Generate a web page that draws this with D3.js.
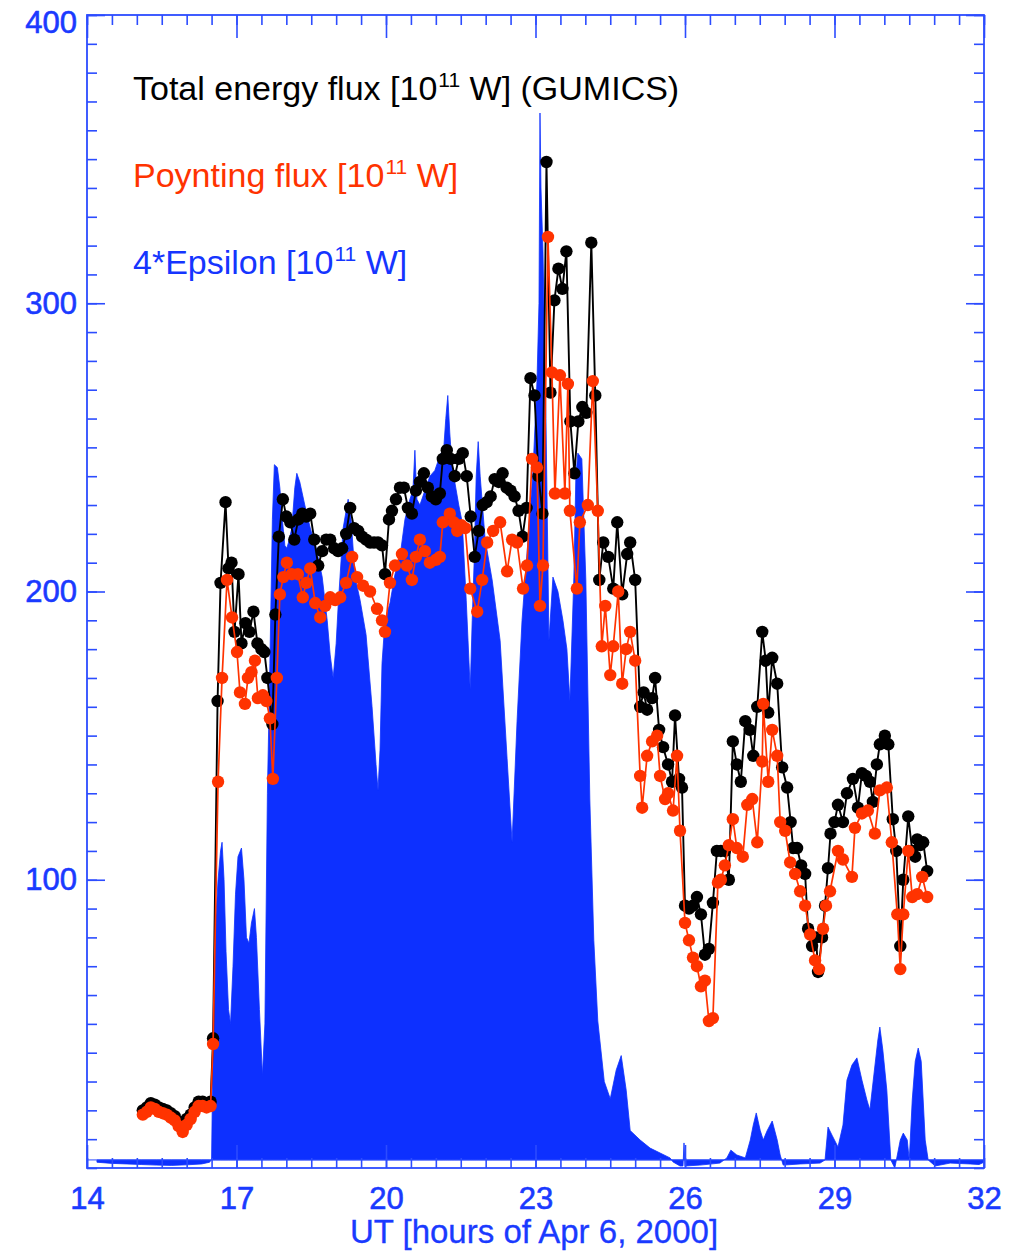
<!DOCTYPE html>
<html>
<head>
<meta charset="utf-8">
<script src="https://cdn.jsdelivr.net/npm/d3@7"></script>
<style>
  body { margin: 0; background: #fff; }
  text { font-family: "Liberation Sans", Arial, Helvetica, sans-serif; }
</style>
</head>
<body>
<svg id="chart" width="1019" height="1251"></svg>
<script>
// ---- axis ticks ----
const xTicks = [14, 17, 20, 23, 26, 29, 32];
const yTicks = [100, 200, 300, 400];
const xMinorStep = 0.5;
const yMinorStep = 10;

// reference level that the epsilon fill is closed against
const epsilonBase = 2.8;

// 4*Epsilon [1e11 W], [UT hour, value]
const epsilon4 = [
  [14.2,2.0],[14.5,1.6],[14.8,1.4],[15.1,1.2],[15.4,1.0],[15.7,0.9],[16.0,1.1],[16.3,1.4],[16.46,2.0],
  [16.50,3],[16.53,45],[16.58,85],[16.63,100],[16.68,110],[16.71,113],[16.75,100],[16.79,75],[16.84,55],
  [16.88,50],[16.93,70],[16.98,95],[17.03,108],[17.10,111],[17.15,100],[17.20,80],[17.25,78],[17.30,85],
  [17.36,90],[17.40,80],[17.46,55],[17.52,32],[17.57,50],[17.62,130],[17.67,175],[17.72,225],[17.76,244],
  [17.82,243],[17.87,236],[17.92,225],[17.97,216],[18.01,215],[18.06,218],[18.11,222],[18.17,236],[18.21,241],
  [18.27,238],[18.37,230],[18.48,222],[18.60,215],[18.72,205],[18.82,190],[18.88,178],[18.94,170],[19.00,182],
  [19.04,195],[19.14,222],[19.24,232],[19.30,225],[19.38,205],[19.48,197],[19.60,185],[19.72,160],[19.80,140],
  [19.84,131],[19.88,145],[19.92,175],[19.98,190],[20.08,196],[20.18,206],[20.28,212],[20.38,225],[20.48,232],
  [20.54,235],[20.58,249],[20.62,232],[20.68,230],[20.78,235],[20.88,240],[20.98,242],[21.08,247],[21.16,250],
  [21.20,260],[21.24,268],[21.28,255],[21.32,245],[21.38,238],[21.46,230],[21.53,224],[21.61,197],[21.69,166],
  [21.73,190],[21.77,211],[21.81,240],[21.85,252],[21.89,240],[21.99,218],[22.13,204],[22.29,183],[22.43,142],
  [22.53,113],[22.63,155],[22.73,190],[22.85,218],[22.95,242],[23.03,273],[23.07,300],[23.09,366],[23.11,340],
  [23.15,318],[23.21,260],[23.27,183],[23.35,205],[23.45,200],[23.55,190],[23.63,180],[23.69,162],[23.77,205],
  [23.81,240],[23.85,248],[23.93,246],[24.01,204],[24.09,128],[24.17,79],[24.25,51],[24.38,30],[24.50,24],
  [24.62,34],[24.72,39],[24.82,27],[24.90,13],[25.10,9.7],[25.30,6.9],[25.50,5.2],[25.70,3.5],[25.76,2.1],
  [25.90,0.7],[25.96,0.7],[25.98,8.7],[26.00,0.7],[26.30,1.0],[26.70,1.7],[26.84,3.5],[26.92,6.2],[27.04,4.5],
  [27.21,3.5],[27.31,9.7],[27.37,14.9],[27.43,19.1],[27.51,13],[27.57,9.7],[27.65,13],[27.75,16.3],[27.85,9.7],
  [27.91,4.5],[27.97,1.0],[28.31,1.4],[28.71,1.7],[28.81,2.8],[28.87,14.2],[28.95,11.4],[29.07,7.3],[29.17,14.9],
  [29.25,30.5],[29.35,35.7],[29.45,38.2],[29.55,30.5],[29.65,23.6],[29.71,20.1],[29.79,32.3],[29.87,44.4],
  [29.91,48.9],[29.97,40.9],[30.05,27],[30.13,2.8],[30.21,0],[30.32,9.7],[30.38,12.1],[30.46,9.7],[30.50,2.8],
  [30.56,23.6],[30.62,37],[30.68,41.6],[30.74,37],[30.82,9.7],[30.88,2.8],[31.02,0.7],[31.32,1.7],[31.72,1.4],
  [31.90,1.2],[32.0,2.0]
];

// Total energy flux (GUMICS) [1e11 W], [UT hour, value]
const totalFlux = [
  [15.12,20],[15.20,21],[15.28,22.5],[15.36,22],[15.44,21],[15.52,20.5],[15.60,20],[15.68,19],[15.76,18],
  [15.84,16],[15.92,14],[16.00,17],[16.08,18.5],[16.16,21],[16.24,23],[16.32,23],[16.40,22.5],[16.48,23],
  [16.53,45],[16.62,162],[16.68,203],[16.78,231],[16.84,208],[16.90,210],[16.96,186],[17.04,206],[17.10,182],
  [17.18,189],[17.26,186],[17.34,193],[17.42,182],[17.50,180],[17.56,179],[17.62,170],[17.72,154],[17.78,192],
  [17.85,219],[17.93,232],[18.00,226],[18.08,224],[18.16,218],[18.24,225],[18.32,227],[18.40,226],[18.48,227],
  [18.56,218],[18.64,209],[18.72,214],[18.80,218],[18.88,218],[18.96,215],[19.04,214],[19.12,215],[19.20,220],
  [19.28,229],[19.36,222],[19.44,221],[19.52,219],[19.60,218],[19.68,217],[19.76,217],[19.84,217],[19.92,216],
  [19.98,206],[20.06,225],[20.12,228],[20.20,232],[20.28,236],[20.36,236],[20.44,229],[20.52,227],[20.60,235],
  [20.68,238],[20.76,241],[20.84,236],[20.92,233],[21.00,232],[21.08,234],[21.14,246],[21.22,249],[21.30,246],
  [21.38,240],[21.46,246],[21.54,248],[21.62,240],[21.70,226],[21.78,212],[21.86,221],[21.94,230],[22.02,231],
  [22.10,233],[22.18,239],[22.26,238],[22.34,241],[22.42,236],[22.50,235],[22.58,233],[22.66,228],[22.74,219],
  [22.82,229],[22.90,274],[22.98,268],[23.06,240],[23.14,227],[23.22,349],[23.30,269],[23.38,301],[23.46,312],
  [23.54,305],[23.62,318],[23.70,259],[23.78,241],[23.86,259],[23.94,264],[24.02,262],[24.12,321],[24.20,268],
  [24.28,204],[24.36,217],[24.46,212],[24.56,201],[24.64,224],[24.74,199],[24.84,213],[24.90,217],[25.00,204],
  [25.10,160],[25.17,165],[25.24,159],[25.34,163],[25.40,170],[25.48,152],[25.56,146],[25.66,140],[25.74,134],
  [25.80,157],[25.88,135],[25.94,132],[26.00,91],[26.08,90],[26.16,91],[26.24,94],[26.32,88],[26.40,74],
  [26.48,76],[26.56,92],[26.64,110],[26.72,110],[26.80,110],[26.88,100],[26.96,148],[27.04,140],[27.12,134],
  [27.21,155],[27.30,152],[27.37,143],[27.45,160],[27.55,186],[27.62,176],[27.67,158],[27.75,177],[27.85,168],
  [27.95,139],[28.05,132],[28.12,120],[28.17,111],[28.25,111],[28.33,105],[28.41,102],[28.47,83],[28.55,77],
  [28.63,80],[28.67,68],[28.75,80],[28.81,91],[28.87,104],[28.92,116],[29.00,120],[29.07,126],[29.17,120],
  [29.25,130],[29.37,135],[29.47,125],[29.55,137],[29.63,136],[29.71,134],[29.77,127],[29.85,140],[29.91,147],
  [30.01,150],[30.08,147],[30.17,121],[30.24,110],[30.32,77],[30.38,100],[30.48,122],[30.56,110],[30.62,108],
  [30.66,114],[30.72,112],[30.78,113],[30.86,103]
];

// Poynting flux [1e11 W], [UT hour, value]
const poyntingFlux = [
  [15.12,18.5],[15.20,19.5],[15.28,21],[15.36,20.5],[15.44,19.5],[15.52,19],[15.60,18.5],[15.68,17.5],[15.76,16.5],
  [15.84,14.5],[15.92,12.5],[16.00,15],[16.08,17],[16.16,19.5],[16.24,21.5],[16.32,21.5],[16.40,21],[16.48,21.5],
  [16.53,43],[16.63,134],[16.71,170],[16.81,204],[16.91,191],[17.01,179],[17.07,165],[17.17,161],[17.23,170],
  [17.30,172],[17.37,176],[17.43,163],[17.53,164],[17.60,162],[17.67,156],[17.73,135],[17.81,170],[17.87,199],
  [17.94,205],[18.01,210],[18.11,206],[18.23,206],[18.33,198],[18.40,203],[18.48,208],[18.58,196],[18.68,191],
  [18.78,195],[18.88,198],[18.98,197],[19.08,198],[19.20,203],[19.32,212],[19.42,205],[19.54,202],[19.68,200],
  [19.82,194],[19.92,190],[19.98,186],[20.08,203],[20.18,209],[20.32,213],[20.42,209],[20.52,204],[20.60,212],
  [20.68,218],[20.78,214],[20.88,210],[21.00,211],[21.08,212],[21.14,224],[21.28,227],[21.36,224],[21.43,221],
  [21.51,223],[21.59,222],[21.69,201],[21.83,193],[21.93,204],[22.03,217],[22.15,221],[22.29,224],[22.43,207],
  [22.53,218],[22.63,217],[22.75,201],[22.83,209],[22.93,246],[23.03,243],[23.09,195],[23.15,209],[23.25,323],
  [23.33,276],[23.39,234],[23.49,275],[23.59,234],[23.65,272],[23.69,228],[23.83,201],[23.89,224],[24.05,230],
  [24.15,273],[24.25,228],[24.33,181],[24.40,195],[24.50,171],[24.56,181],[24.66,200],[24.74,168],[24.82,180],
  [24.90,186],[25.00,176],[25.10,136],[25.14,125],[25.24,143],[25.34,148],[25.44,150],[25.50,136],[25.60,128],
  [25.66,130],[25.76,124],[25.84,143],[25.90,117],[26.00,85],[26.08,79],[26.16,73],[26.24,70],[26.32,63],
  [26.40,65],[26.48,51],[26.56,52],[26.66,99],[26.72,100],[26.80,105],[26.88,112],[26.96,121],[27.04,111],
  [27.16,108],[27.25,126],[27.35,128],[27.45,113],[27.55,141],[27.57,161],[27.67,134],[27.75,152],[27.85,143],
  [27.91,120],[28.01,117],[28.11,106],[28.21,102],[28.31,96],[28.41,91],[28.51,81],[28.61,72],[28.69,69],
  [28.77,83],[28.83,91],[28.91,96],[29.07,110],[29.17,107],[29.35,101],[29.41,118],[29.55,123],[29.67,124],
  [29.81,116],[29.91,131],[30.05,132],[30.15,113],[30.26,88],[30.32,69],[30.38,88],[30.48,110],[30.56,94],
  [30.66,95],[30.76,101],[30.86,94]
];

// legend lines: main text, superscript, trailing text
const legendLines = [
  { pre: "Total energy flux [10", sup: "11", post: " W] (GUMICS)", color: "#000000" },
  { pre: "Poynting flux [10",      sup: "11", post: " W]",          color: "#ff3300" },
  { pre: "4*Epsilon [10",          sup: "11", post: " W]",          color: "#1535ff" }
];
const xTitle = "UT [hours of Apr 6, 2000]";

// ---- layout ----
const W = 1019, H = 1251;
const plotL = 87, plotR = 984, plotT = 15, plotB = 1168;
const axisColor = "#2c4cff";
const fillColor = "#0d30ff";
const labelColor = "#1a3aff";
const redColor = "#ff3300";

const svg = d3.select("#chart");
svg.append("rect").attr("width", W).attr("height", H).attr("fill", "#fff");

const x = d3.scaleLinear().domain([14, 32]).range([plotL, plotR]);
const y = d3.scaleLinear().domain([0, 400]).range([plotB, plotT]);

// epsilon filled area, closed against the reference level
const area = d3.area()
  .x(d => x(d[0]))
  .y0(y(epsilonBase))
  .y1(d => y(d[1]))
  .curve(d3.curveLinear);
svg.append("path").datum(epsilon4)
  .attr("d", area)
  .attr("fill", fillColor)
  .attr("stroke", fillColor)
  .attr("stroke-width", 0.8);

// reference level line
svg.append("line")
  .attr("x1", plotL).attr("x2", plotR)
  .attr("y1", y(epsilonBase)).attr("y2", y(epsilonBase))
  .attr("stroke", axisColor).attr("stroke-width", 1);

// ---- axes ----
function styleAxis(g) {
  g.select(".domain").remove();
  g.selectAll(".tick line").attr("stroke", axisColor).attr("stroke-width", 1.6);
  g.selectAll(".tick text")
    .attr("fill", labelColor)
    .attr("stroke", labelColor)
    .attr("stroke-width", 0.6)
    .attr("font-size", 31)
    .attr("font-family", "'Liberation Sans', Arial, sans-serif");
}
const xMinor = d3.range(14, 32.001, xMinorStep);
const yMinor = d3.range(0, 400.001, yMinorStep);

// bottom
svg.append("g").attr("transform", `translate(0,${plotB})`)
  .call(d3.axisBottom(x).tickValues(xMinor).tickSize(-10).tickSizeOuter(0).tickFormat(""))
  .call(styleAxis);
svg.append("g").attr("transform", `translate(0,${plotB})`)
  .call(d3.axisBottom(x).tickValues(xTicks).tickSize(-23).tickSizeOuter(0).tickPadding(19).tickFormat(d3.format("d")))
  .call(styleAxis);
// top
svg.append("g").attr("transform", `translate(0,${plotT})`)
  .call(d3.axisTop(x).tickValues(xMinor).tickSize(-10).tickSizeOuter(0).tickFormat(""))
  .call(styleAxis);
svg.append("g").attr("transform", `translate(0,${plotT})`)
  .call(d3.axisTop(x).tickValues(xTicks).tickSize(-23).tickSizeOuter(0).tickFormat(""))
  .call(styleAxis);
// left
svg.append("g").attr("transform", `translate(${plotL},0)`)
  .call(d3.axisLeft(y).tickValues(yMinor).tickSize(-10).tickSizeOuter(0).tickFormat(""))
  .call(styleAxis);
svg.append("g").attr("transform", `translate(${plotL},0)`)
  .call(d3.axisLeft(y).tickValues(yTicks).tickSize(-18).tickSizeOuter(0).tickPadding(10).tickFormat(d3.format("d")))
  .call(styleAxis)
  // keep the top label inside the page
  .call(g => g.selectAll(".tick text").filter(d => d === 400).attr("dy", "0.55em"));
// right
svg.append("g").attr("transform", `translate(${plotR},0)`)
  .call(d3.axisRight(y).tickValues(yMinor).tickSize(-10).tickSizeOuter(0).tickFormat(""))
  .call(styleAxis);
svg.append("g").attr("transform", `translate(${plotR},0)`)
  .call(d3.axisRight(y).tickValues(yTicks).tickSize(-18).tickSizeOuter(0).tickFormat(""))
  .call(styleAxis);

// frame
svg.append("rect")
  .attr("x", plotL).attr("y", plotT)
  .attr("width", plotR - plotL).attr("height", plotB - plotT)
  .attr("fill", "none").attr("stroke", axisColor).attr("stroke-width", 1.8);

// x-axis title
svg.append("text")
  .attr("x", 534).attr("y", 1243)
  .attr("text-anchor", "middle")
  .attr("fill", labelColor)
  .attr("stroke", labelColor)
  .attr("stroke-width", 0.3)
  .attr("font-size", 33)
  .text(xTitle);

// ---- flux series ----
const line = d3.line().x(d => x(d[0])).y(d => y(d[1]));

function drawSeries(data, color, lw) {
  const g = svg.append("g");
  g.append("path").datum(data)
    .attr("d", line)
    .attr("fill", "none")
    .attr("stroke", color)
    .attr("stroke-width", lw);
  g.selectAll("circle").data(data).join("circle")
    .attr("cx", d => x(d[0]))
    .attr("cy", d => y(d[1]))
    .attr("r", 6.2)
    .attr("fill", color);
}
drawSeries(totalFlux, "#000000", 1.9);
drawSeries(poyntingFlux, redColor, 1.7);

// ---- legend ----
const legendY = [100, 187, 274];
legendLines.forEach((L, i) => {
  const t = svg.append("text")
    .attr("x", 133).attr("y", legendY[i])
    .attr("fill", L.color)
    .attr("font-size", 34);
  t.append("tspan").text(L.pre);
  t.append("tspan").attr("dx", 1).attr("dy", -13).attr("font-size", 21).text(L.sup);
  t.append("tspan").attr("dy", 13).text(L.post);
});
</script>
</body>
</html>
